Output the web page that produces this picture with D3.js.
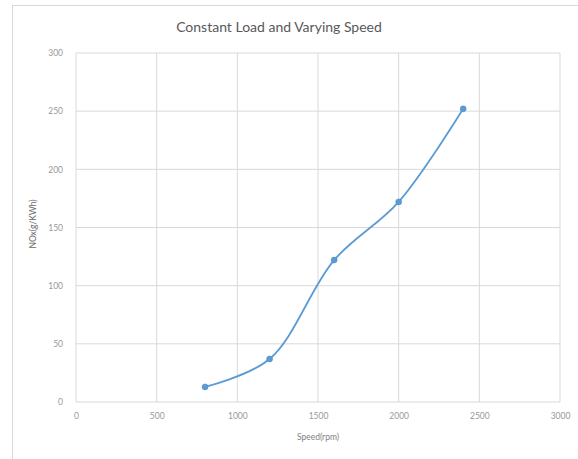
<!DOCTYPE html>
<html>
<head>
<meta charset="utf-8">
<script src="https://cdn.jsdelivr.net/npm/d3@7"></script>
<style>
  body { margin: 0; background: #fff; }
  text { font-family: Lato, "Open Sans", sans-serif; }
</style>
</head>
<body>
<div id="chart"></div>
<script>
// data
const speeds = [800, 1200, 1600, 2000, 2400];
const noxValues = [13, 37, 122, 172, 252];
const xTicks = [0, 500, 1000, 1500, 2000, 2500, 3000];
const yTicks = [0, 50, 100, 150, 200, 250, 300];

const config = {
    width: 578,
    height: 459,
    plot: { left: 76, right: 560, top: 53, bottom: 402 }
};

const svg = d3.select('#chart')
    .append('svg')
    .attr('width', config.width)
    .attr('height', config.height);

// chart frame
svg.append('rect')
    .attr('x', 12.5).attr('y', 5.5)
    .attr('width', 570).attr('height', 460)
    .attr('fill', '#fff')
    .attr('stroke', '#d9d9d9');

let x = d3.scaleLinear()
    .domain([0, 3000])
    .range([config.plot.left, config.plot.right]);

let y = d3.scaleLinear()
    .domain([0, 300])
    .range([config.plot.bottom, config.plot.top]);

// grid lines
svg.append('g')
    .selectAll('line')
    .data(xTicks)
    .enter()
    .append('line')
    .attr('x1', d => x(d)).attr('x2', d => x(d))
    .attr('y1', config.plot.top).attr('y2', config.plot.bottom)
    .attr('stroke', '#d9d9d9');

svg.append('g')
    .selectAll('line')
    .data(yTicks)
    .enter()
    .append('line')
    .attr('x1', config.plot.left).attr('x2', config.plot.right)
    .attr('y1', d => y(d)).attr('y2', d => y(d))
    .attr('stroke', '#d9d9d9');

// axes (labels only, Excel style)
let bottomAxis = d3.axisBottom(x).tickValues(xTicks).tickFormat(d3.format('d')).tickSize(0).tickPadding(11);
let leftAxis = d3.axisLeft(y).tickValues(yTicks).tickFormat(d3.format('d')).tickSize(0).tickPadding(13);

svg.append('g')
    .attr('transform', `translate(0, ${config.plot.bottom})`)
    .call(bottomAxis)
    .call(g => g.select('.domain').remove())
    .selectAll('text')
    .attr('fill', '#999')
    .style('font-size', '8.5px');

svg.append('g')
    .attr('transform', `translate(${config.plot.left}, 0)`)
    .call(leftAxis)
    .call(g => g.select('.domain').remove())
    .selectAll('text')
    .attr('fill', '#999')
    .style('font-size', '8.5px');

// title
svg.append('text')
    .attr('x', 279)
    .attr('y', 32)
    .attr('text-anchor', 'middle')
    .attr('fill', '#595959')
    .style('font-size', '14px')
    .text('Constant Load and Varying Speed');

// axis titles
svg.append('text')
    .attr('x', 318)
    .attr('y', 440)
    .attr('text-anchor', 'middle')
    .attr('fill', '#7f7f7f')
    .style('font-size', '8.5px')
    .text('Speed(rpm)');

svg.append('text')
    .attr('transform', `translate(36, 224) rotate(-90)`)
    .attr('text-anchor', 'middle')
    .attr('fill', '#666')
    .style('font-size', '8.5px')
    .text('NOx(g/KWh)');

// series
const points = speeds.map((s, i) => ({ speed: s, nox: noxValues[i] }));

let line = d3.line()
    .x(d => x(d.speed))
    .y(d => y(d.nox))
    .curve(d3.curveCatmullRom.alpha(0.5));

svg.append('path')
    .datum(points)
    .attr('d', line)
    .attr('fill', 'none')
    .attr('stroke', '#5b9bd5')
    .attr('stroke-width', 1.8);

svg.append('g')
    .selectAll('circle')
    .data(points)
    .enter()
    .append('circle')
    .attr('cx', d => x(d.speed))
    .attr('cy', d => y(d.nox))
    .attr('r', 3)
    .attr('fill', '#5b9bd5')
    .attr('stroke', '#4a86c0')
    .attr('stroke-width', 0.5);
</script>
</body>
</html>
